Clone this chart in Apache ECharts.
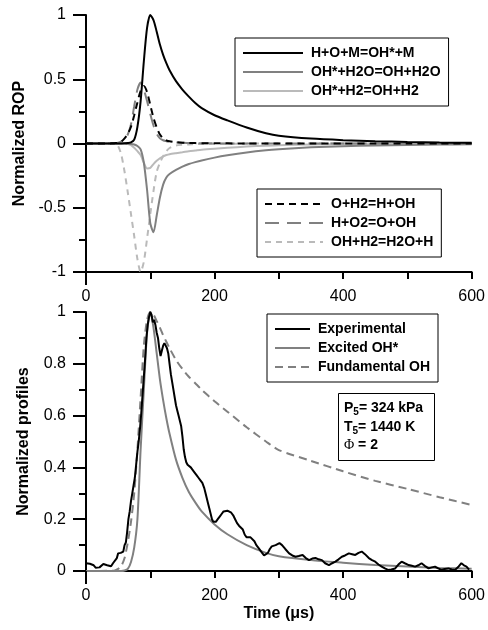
<!DOCTYPE html>
<html><head><meta charset="utf-8">
<script src="https://cdn.jsdelivr.net/npm/echarts@6/dist/echarts.min.js"></script>
<style>html,body{margin:0;padding:0;background:#fff}#c{width:488px;height:630px}</style>
</head><body><div id="c"></div>
<script>
// shared time grid (µs) for model curves
const timeGrid = [0,40,45,50,55,60,65,70,75,80,85,90,95,100,105,110,115,120,125,130,140,150,160,170,180,200,220,250,280,300,350,400,450,500,550,600];

// Top chart: normalized ROP
const ropHOM = [0,0,0,0,0,0.001,0.003,0.008,0.03,0.13,0.33,0.64,0.9,1.0,0.96,0.87,0.77,0.69,0.625,0.57,0.485,0.42,0.365,0.315,0.275,0.22,0.18,0.125,0.08,0.06,0.038,0.026,0.018,0.012,0.008,0.005];
const ropOHsH2O = [0,0,0,0,0,0,-0.001,-0.003,-0.008,-0.02,-0.045,-0.15,-0.36,-0.62,-0.69,-0.56,-0.42,-0.32,-0.265,-0.237,-0.205,-0.18,-0.16,-0.145,-0.132,-0.11,-0.092,-0.07,-0.053,-0.045,-0.03,-0.021,-0.015,-0.011,-0.008,-0.006];
const ropOHsH2 = [0,0,0,0,0,-0.001,-0.004,-0.012,-0.033,-0.06,-0.09,-0.15,-0.195,-0.19,-0.16,-0.135,-0.115,-0.1,-0.09,-0.083,-0.075,-0.068,-0.06,-0.054,-0.048,-0.04,-0.033,-0.024,-0.017,-0.013,-0.008,-0.005,-0.003,-0.002,-0.001,-0.001];
const ropOH2 = [0,0.001,0.003,0.006,0.015,0.04,0.075,0.13,0.22,0.32,0.41,0.447,0.4,0.3,0.2,0.125,0.07,0.04,0.025,0.017,0.01,0.006,0.004,0.003,0.002,0.001,0.001,0,0,0,0,0,0,0,0,0];
const ropHO2 = [0,0.001,0.003,0.007,0.017,0.035,0.07,0.15,0.29,0.42,0.475,0.42,0.33,0.23,0.14,0.075,0.04,0.025,0.018,0.013,0.008,0.005,0.004,0.003,0.002,0.001,0,0,0,0,0,0,0,0,0,0];
const ropOHH2 = [0,-0.001,-0.005,-0.02,-0.09,-0.22,-0.38,-0.55,-0.72,-0.9,-1.0,-0.92,-0.74,-0.55,-0.37,-0.22,-0.15,-0.1,-0.06,-0.035,-0.015,-0.01,-0.007,-0.005,-0.004,-0.003,-0.002,-0.001,0,0,0,0,0,0,0,0];

// Bottom chart: normalized profiles
const excitedOH = [0,0,0,0,0,0.002,0.008,0.035,0.09,0.2,0.47,0.7,0.92,1.0,0.94,0.84,0.74,0.66,0.59,0.53,0.43,0.36,0.305,0.265,0.23,0.18,0.142,0.1,0.07,0.057,0.042,0.032,0.023,0.017,0.012,0.009];
const fundamentalOH = [0,0.001,0.002,0.008,0.02,0.05,0.11,0.19,0.3,0.47,0.67,0.87,0.97,1.0,0.99,0.965,0.94,0.91,0.885,0.86,0.815,0.78,0.75,0.725,0.7,0.655,0.615,0.555,0.5,0.467,0.425,0.385,0.348,0.317,0.285,0.255];

const expTime = [0,3,6,9,12,15,18,21,24,27,30,33,36,39,42,45,48,50,52,54,56,58,60,62,64,66,68,70,72,74,76,78,80,82,84,86,88,90,92,94,96,98,100,102,104,106,108,110,112,114,116,118,120,122,124,126,128,130,132,134,136,138,140,142,144,146,148,150,152,154,156,158,160,163,166,169,172,175,178,181,184,186,188,190,192,194,196,198,200,202,205,208,211,214,217,220,223,226,229,232,235,238,241,244,247,250,253,256,259,262,265,268,271,274,277,280,283,286,289,292,295,298,301,305,310,316,321,326,331,337,342,347,352,357,362,367,372,378,383,388,393,398,403,409,414,419,424,429,434,440,445,450,455,460,465,470,475,481,486,491,496,502,507,512,517,522,527,533,538,543,548,553,558,564,569,574,579,584,588,592,596,600];
const expValue = [0.03,0.033,0.028,0.03,0.022,0.013,0.01,0.014,0.016,0.027,0.03,0.022,0.015,0.018,0.03,0.035,0.05,0.068,0.075,0.07,0.065,0.075,0.1,0.11,0.15,0.2,0.23,0.27,0.3,0.33,0.36,0.41,0.46,0.5,0.55,0.61,0.68,0.75,0.82,0.9,0.95,0.98,1.0,0.99,0.96,0.97,0.95,0.92,0.9,0.86,0.83,0.85,0.87,0.88,0.87,0.86,0.84,0.8,0.76,0.73,0.7,0.67,0.64,0.62,0.6,0.58,0.56,0.52,0.47,0.44,0.42,0.41,0.405,0.4,0.395,0.38,0.37,0.36,0.35,0.34,0.32,0.3,0.28,0.26,0.24,0.22,0.2,0.19,0.185,0.19,0.2,0.21,0.22,0.23,0.235,0.233,0.23,0.225,0.215,0.2,0.185,0.175,0.17,0.16,0.14,0.13,0.135,0.13,0.125,0.115,0.1,0.09,0.085,0.07,0.06,0.055,0.07,0.085,0.095,0.1,0.1,0.105,0.108,0.1,0.085,0.068,0.06,0.055,0.058,0.062,0.05,0.042,0.048,0.05,0.045,0.042,0.03,0.023,0.03,0.036,0.045,0.055,0.06,0.068,0.065,0.062,0.07,0.075,0.065,0.05,0.042,0.036,0.025,0.017,0.01,0.004,0.006,0.01,0.025,0.036,0.03,0.023,0.02,0.017,0.022,0.03,0.02,0.01,0.014,0.017,0.01,0.004,0.008,0.01,0.006,0.004,0.015,0.03,0.022,0.017,0.005];

const legendTop1 = ['H+O+M=OH*+M','OH*+H2O=OH+H2O','OH*+H2=OH+H2'];
const legendTop2 = ['O+H2=H+OH','H+O2=O+OH','OH+H2=H2O+H'];
const legendBottom = ['Experimental','Excited OH*','Fundamental OH'];
const xTicks = [0,200,400,600];

const FONT = 'Liberation Sans';
const BLACK = '#000000', MID = '#808080', LIGHT = '#bababa';

function pairs(xs, ys){ return xs.map((x,i)=>[x, ys[i]]); }

function mkLine(name, data, color, type, grid, smooth){
  return {
    name, type:'line', xAxisIndex:grid, yAxisIndex:grid,
    data, symbol:'none', showSymbol:false, smooth: smooth, clip:true,
    lineStyle:{color, width:2, type: type || 'solid'},
    itemStyle:{color}, emphasis:{disabled:true}, animation:false
  };
}

function xAxisCfg(grid, withName){
  const c = {
    type:'value', gridIndex:grid, min:0, max:600, interval:100,
    axisLine:{show:true, onZero:false, lineStyle:{color:BLACK, width:2}},
    axisTick:{show:true, inside:false, length:7, lineStyle:{color:BLACK, width:2}},
    axisLabel:{show:true, margin:17, color:BLACK, fontFamily:FONT, fontSize:16,
      formatter:(v)=> xTicks.indexOf(v) >= 0 ? String(v) : ''},
    splitLine:{show:false}
  };
  if (withName){
    c.name = 'Time (\u03bcs)';
    c.nameLocation = 'middle';
    c.nameGap = 35;
    c.nameTextStyle = {color:BLACK, fontFamily:FONT, fontSize:16, fontWeight:'bold'};
  }
  return c;
}

function yAxisCfg(grid, min, max, interval, name){
  return {
    type:'value', gridIndex:grid, min, max, interval,
    name, nameLocation:'middle', nameGap:54, nameRotate:90,
    nameTextStyle:{color:BLACK, fontFamily:FONT, fontSize:16, fontWeight:'bold'},
    axisLine:{show:true, onZero:false, lineStyle:{color:BLACK, width:2}},
    axisTick:{show:true, inside:false, length:13, lineStyle:{color:BLACK, width:2}},
    minorTick:{show:true, splitNumber:2, length:7, lineStyle:{color:BLACK, width:2}},
    axisLabel:{margin:20, color:BLACK, fontFamily:FONT, fontSize:16},
    splitLine:{show:false}, minorSplitLine:{show:false}
  };
}

function legendCfg(data, left, top, itemWidth){
  return {
    data, orient:'vertical', left, top, itemWidth, itemHeight:14, itemGap:5,
    padding:[8,8,8,7], borderColor:BLACK, borderWidth:1, backgroundColor:'#fff',
    textStyle:{color:BLACK, fontFamily:FONT, fontSize:14, fontWeight:'bold', padding:[0,0,0,3]},
    itemStyle:{opacity:0},
    selectedMode:false
  };
}

const chart = echarts.init(document.getElementById('c'), null, {renderer:'canvas'});
const option = {
  backgroundColor:'#fff',
  animation:false,
  textStyle:{fontFamily:FONT},
  title:{
    left:338, top:393, padding:[6,12,6,6],
    borderColor:BLACK, borderWidth:1, backgroundColor:'#fff',
    text:'{b|P}{s|5}{b|= 324 kPa}\n{b|T}{s|5}{b|= 1440 K}\n{p|\u03a6}{b| = 2}',
    textStyle:{
      fontFamily:FONT, fontSize:14, fontWeight:'bold', color:BLACK, lineHeight:18.5,
      rich:{
        b:{fontFamily:FONT, fontSize:14, fontWeight:'bold', color:BLACK, lineHeight:18.5},
        s:{fontFamily:FONT, fontSize:10, fontWeight:'bold', color:BLACK, lineHeight:18.5, verticalAlign:'bottom'},
        p:{fontFamily:'Liberation Serif', fontSize:14, fontWeight:'normal', color:BLACK, lineHeight:18.5}
      }
    }
  },
  grid:[
    {left:86, top:15, width:387, height:257, containLabel:false},
    {left:86, top:312, width:387, height:259, containLabel:false}
  ],
  xAxis:[xAxisCfg(0,false), xAxisCfg(1,true)],
  yAxis:[yAxisCfg(0,-1,1,0.5,'Normalized ROP'), yAxisCfg(1,0,1,0.2,'Normalized profiles')],
  legend:[
    legendCfg(legendTop1, 235, 38, 60),
    legendCfg(legendTop2, 257, 189, 58),
    legendCfg(legendBottom, 267, 314, 35)
  ],
  series:[
    mkLine('OH+H2=H2O+H', pairs(timeGrid, ropOHH2), LIGHT, [6,5], 0, 0.25),
    mkLine('OH*+H2=OH+H2', pairs(timeGrid, ropOHsH2), LIGHT, 'solid', 0, 0.25),
    mkLine('OH*+H2O=OH+H2O', pairs(timeGrid, ropOHsH2O), MID, 'solid', 0, 0.25),
    mkLine('H+O2=O+OH', pairs(timeGrid, ropHO2), MID, [14,8], 0, 0.25),
    mkLine('O+H2=H+OH', pairs(timeGrid, ropOH2), BLACK, [7,5], 0, 0.25),
    mkLine('H+O+M=OH*+M', pairs(timeGrid, ropHOM), BLACK, 'solid', 0, 0.25),
    mkLine('Fundamental OH', pairs(timeGrid, fundamentalOH), MID, [8,5], 1, 0.25),
    mkLine('Excited OH*', pairs(timeGrid, excitedOH), MID, 'solid', 1, 0.25),
    mkLine('Experimental', pairs(expTime, expValue), BLACK, 'solid', 1, false)
  ]
};
chart.setOption(option);

// extend the left axis line below the bottom axis, as in the original
function axisStub(grid, yMin){
  const p = chart.convertToPixel({gridIndex:grid}, [0, yMin]);
  return {type:'line', shape:{x1:p[0], y1:p[1], x2:p[0], y2:p[1]+13}, style:{stroke:BLACK, lineWidth:2}, z:10};
}
chart.setOption({graphic:[axisStub(0,-1), axisStub(1,0)]});
</script></body></html>
